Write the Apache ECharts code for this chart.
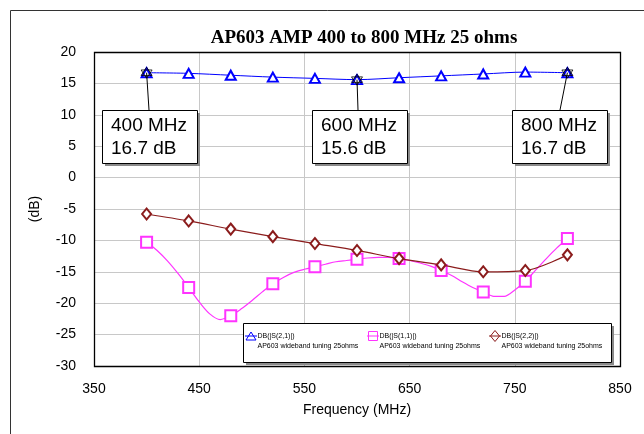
<!DOCTYPE html>
<html><head><meta charset="utf-8">
<script src="https://cdn.jsdelivr.net/npm/echarts@6/dist/echarts.min.js"></script>
<style>html,body{margin:0;padding:0;background:#fff}#c{width:644px;height:434px}</style>
</head><body><div id="c"></div>
<script>
// ---------- data ----------
const titleText = 'AP603 AMP 400 to 800 MHz 25 ohms';
const xAxisName = 'Frequency (MHz)';
const yAxisName = '(dB)';
const xMin = 350, xMax = 850, xStep = 100;
const yMin = -30, yMax = 20, yStep = 5;

const seriesNames = ['DB(|S(2,1)|)', 'DB(|S(1,1)|)', 'DB(|S(2,2)|)'];
const seriesSub = 'AP603 wideband tuning 25ohms';

const markerFreq = [400, 440, 480, 520, 560, 600, 640, 680, 720, 760, 800];
const s21Db = [16.7, 16.6, 16.3, 16.0, 15.8, 15.6, 15.9, 16.2, 16.5, 16.8, 16.7];
const s22Db = [-5.8, -6.9, -8.2, -9.4, -10.5, -11.6, -12.9, -13.9, -15.0, -14.8, -12.3];

const s11Freq = [400, 410, 420, 430, 440, 450, 460, 470, 480, 490, 500, 510, 520, 530, 540, 550, 560, 570, 580, 590, 600,
                 610, 620, 630, 640, 650, 660, 670, 680, 690, 700, 710, 720, 730, 740, 750, 760, 770, 780, 790, 800];
const s11Db = [-10.3, -11.6, -13.3, -15.3, -17.5, -19.8, -21.7, -22.6, -22.0, -20.9, -19.6, -18.2, -16.9, -15.9, -15.1, -14.6, -14.2, -13.8, -13.4, -13.2, -13.0,
               -12.8, -12.7, -12.7, -12.9, -13.2, -13.6, -14.1, -14.8, -15.6, -16.6, -17.5, -18.2, -18.9, -18.9, -17.9, -16.5, -14.7, -12.9, -11.2, -9.7];

const annotFreq = [400, 600, 800];
const annotDb = [16.7, 15.6, 16.7];

// ---------- styles / layout ----------
const colS21 = '#0000ff', colS11 = '#ff33ff', colS22 = '#8b1c1c';
const sans = 'Liberation Sans, Arial, sans-serif';
const serif = 'Liberation Serif, Times New Roman, serif';
const hexPath = 'path://M0,-10L8.66,5L-8.66,5Z M0,10L8.66,-5L-8.66,-5Z';

const chart = echarts.init(document.getElementById('c'), null, {renderer: 'canvas'});

const option = {
  animation: false,
  backgroundColor: '#fff',
  title: {
    text: titleText, left: 364, top: 29, textAlign: 'center', padding: 0,
    textStyle: {fontFamily: serif, fontWeight: 'bold', fontSize: 19, color: '#000'}
  },
  grid: {left: 94, top: 52, width: 526, height: 314, show: false},
  xAxis: {
    type: 'value', min: xMin, max: xMax, interval: xStep,
    name: xAxisName, nameLocation: 'middle', nameGap: 37,
    nameTextStyle: {fontFamily: sans, fontSize: 14, color: '#000'},
    axisLine: {show: false}, axisTick: {show: false},
    axisLabel: {margin: 16, fontFamily: sans, fontSize: 14, color: '#000'},
    splitLine: {show: true, lineStyle: {color: '#c8c8c8', width: 1}}
  },
  yAxis: {
    type: 'value', min: yMin, max: yMax, interval: yStep,
    name: yAxisName, nameLocation: 'middle', nameGap: 52, nameRotate: 90,
    nameTextStyle: {fontFamily: sans, fontSize: 14, color: '#000'},
    axisLine: {show: false}, axisTick: {show: false},
    axisLabel: {margin: 18, fontFamily: sans, fontSize: 14, color: '#000'},
    splitLine: {show: true, lineStyle: {color: '#c8c8c8', width: 1}}
  },
  series: [
    {
      name: seriesNames[0], type: 'line', smooth: 0.3,
      data: markerFreq.map((f, i) => [f, s21Db[i]]),
      symbol: 'emptyTriangle', symbolSize: [10, 9],
      lineStyle: {color: colS21, width: 1},
      itemStyle: {color: colS21, borderColor: colS21, borderWidth: 1}, z: 4
    },
    {
      name: seriesNames[1], type: 'line', smooth: 0.3, showAllSymbol: true,
      data: s11Freq.map((f, i) => [f, s11Db[i]]),
      symbol: 'emptyRect',
      symbolSize: v => markerFreq.indexOf(v[0]) >= 0 ? 11 : 0,
      lineStyle: {color: colS11, width: 1.2},
      itemStyle: {color: colS11, borderColor: colS11, borderWidth: 1}, z: 2
    },
    {
      name: seriesNames[2], type: 'line', smooth: 0.3,
      data: markerFreq.map((f, i) => [f, s22Db[i]]),
      symbol: 'emptyDiamond', symbolSize: [9, 11],
      lineStyle: {color: colS22, width: 1.2},
      itemStyle: {color: colS22, borderColor: colS22, borderWidth: 1}, z: 3
    },
    {
      name: 'markers', type: 'scatter',
      data: annotFreq.map((f, i) => [f, annotDb[i]]),
      symbol: hexPath, symbolSize: 11,
      itemStyle: {color: 'rgba(0,0,0,0)', borderColor: '#000', borderWidth: 1}, z: 5
    }
  ]
};
chart.setOption(option);

// ---------- annotations, frame, legend (positioned from the scales) ----------
const g = [];
// outer frame
g.push({type: 'rect', shape: {x: 10.5, y: 10.5, width: 800, height: 600}, style: {fill: 'none', stroke: '#333', lineWidth: 1}, z: 1});
// plot border
const tl = chart.convertToPixel({gridIndex: 0}, [xMin, yMax]);
const br = chart.convertToPixel({gridIndex: 0}, [xMax, yMin]);
g.push({type: 'rect', shape: {x: Math.round(tl[0]) + 0.5, y: Math.round(tl[1]) + 0.5, width: Math.round(br[0] - tl[0]), height: Math.round(br[1] - tl[1])},
  style: {fill: 'none', stroke: '#000', lineWidth: 1.3}, z: 10});

// marker annotation boxes
const boxLeft = [102, 312, 512], boxTop = 110, boxW = 95, boxH = 53;
const leaderX = [149, 358, 560];
annotFreq.forEach((f, i) => {
  const p = chart.convertToPixel({gridIndex: 0}, [f, annotDb[i]]);
  g.push({type: 'line', shape: {x1: p[0], y1: p[1], x2: leaderX[i], y2: boxTop}, style: {stroke: '#000', lineWidth: 1}, z: 20});
  g.push({type: 'rect', shape: {x: boxLeft[i] + 3, y: boxTop + 3, width: boxW, height: boxH}, style: {fill: '#8a8a8a'}, z: 20});
  g.push({type: 'rect', shape: {x: boxLeft[i] + 0.5, y: boxTop + 0.5, width: boxW, height: boxH}, style: {fill: '#fff', stroke: '#000', lineWidth: 1}, z: 21});
  g.push({type: 'text', x: boxLeft[i] + 9, y: boxTop + 5, z: 22,
    style: {text: f + ' MHz\n' + annotDb[i].toFixed(1) + ' dB', font: '19px ' + sans, fill: '#000', lineHeight: 22.5}});
});

// legend
const lgX = 243, lgY = 323, lgW = 368, lgH = 39;
g.push({type: 'rect', shape: {x: lgX + 3, y: lgY + 3, width: lgW, height: lgH}, style: {fill: '#8a8a8a'}, z: 20});
g.push({type: 'rect', shape: {x: lgX + 0.5, y: lgY + 0.5, width: lgW, height: lgH}, style: {fill: '#fff', stroke: '#000', lineWidth: 1}, z: 21});
const lgIconX = [251, 373, 495];
const lgColors = [colS21, colS11, colS22];
const lgSyms = ['triangle', 'rect', 'diamond'];
const lgSizes = [[10, 8], [9, 9], [9, 11]];
seriesNames.forEach((nm, i) => {
  const cx = lgIconX[i], cy = 336;
  g.push({type: 'line', shape: {x1: cx - 6, y1: cy, x2: cx + 6, y2: cy}, style: {stroke: lgColors[i], lineWidth: 1}, z: 22});
  const w = lgSizes[i][0], h = lgSizes[i][1];
  let shape;
  if (lgSyms[i] === 'triangle') shape = {type: 'polygon', shape: {points: [[cx, cy - h / 2], [cx + w / 2, cy + h / 2], [cx - w / 2, cy + h / 2]]}};
  else if (lgSyms[i] === 'rect') shape = {type: 'rect', shape: {x: cx - w / 2, y: cy - h / 2, width: w, height: h}};
  else shape = {type: 'polygon', shape: {points: [[cx, cy - h / 2], [cx + w / 2, cy], [cx, cy + h / 2], [cx - w / 2, cy]]}};
  shape.style = {fill: 'none', stroke: lgColors[i], lineWidth: 1};
  shape.z = 23;
  g.push(shape);
  g.push({type: 'text', x: cx + 6.5, y: cy - 5, z: 23,
    style: {text: nm + '\n' + seriesSub, font: '7px ' + sans, fill: '#000', lineHeight: 10}});
});

chart.setOption({graphic: {elements: g}});
</script>
</body></html>
